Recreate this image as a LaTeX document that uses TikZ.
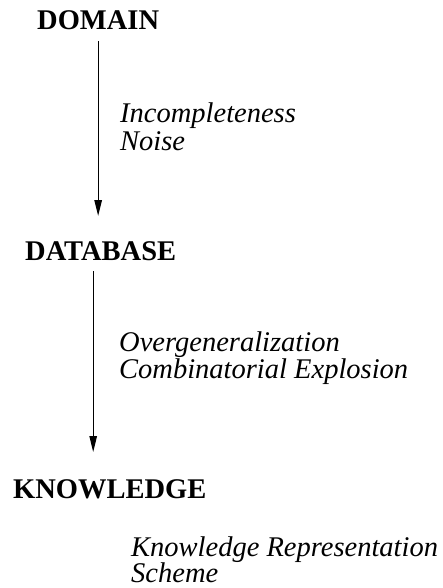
\documentclass[tikz,border=0pt]{standalone}
\usepackage{fontspec}
\setmainfont{Liberation Serif}
\usetikzlibrary{arrows.meta}
\begin{document}
\begin{tikzpicture}[x=1pt,y=-1pt,
  term/.style={font=\fontsize{28.5}{30}\selectfont\bfseries, inner sep=0pt, anchor=base west},
  issue/.style={font=\fontsize{28.5}{#1}\selectfont\itshape, inner sep=0pt, anchor=base west, align=left},
  issue/.default=26.5,
  flow/.style={-{Triangle[length=16pt,width=7.5pt]}, line width=1.2pt}]
\useasboundingbox (0,0) rectangle (443,588);

% the three levels
\node[term] (domain)    at (37,30)  {DOMAIN};
\node[term] (database)  at (25,260) {DATABASE};
\node[term] (knowledge) at (13,498) {KNOWLEDGE};

% problems met between the levels (anchored at the last line's baseline)
\node[issue=28] (noise)   at (120,150) {Incompleteness\\Noise};
\node[issue=26.5] (overgen) at (119,378) {Overgeneralization\\Combinatorial Explosion};
\node[issue=26] (scheme)  at (131,582) {Knowledge Representation\\Scheme};

% arrows down from level to level
\coordinate (d1) at ([yshift=-11pt]domain.south);
\coordinate (d2) at ([xshift=-7.5pt,yshift=-11pt]database.south);
\draw[flow] (d1) -- (d1 |- 0,216);
\draw[flow] (d2) -- (d2 |- 0,452);
\end{tikzpicture}
\end{document}
